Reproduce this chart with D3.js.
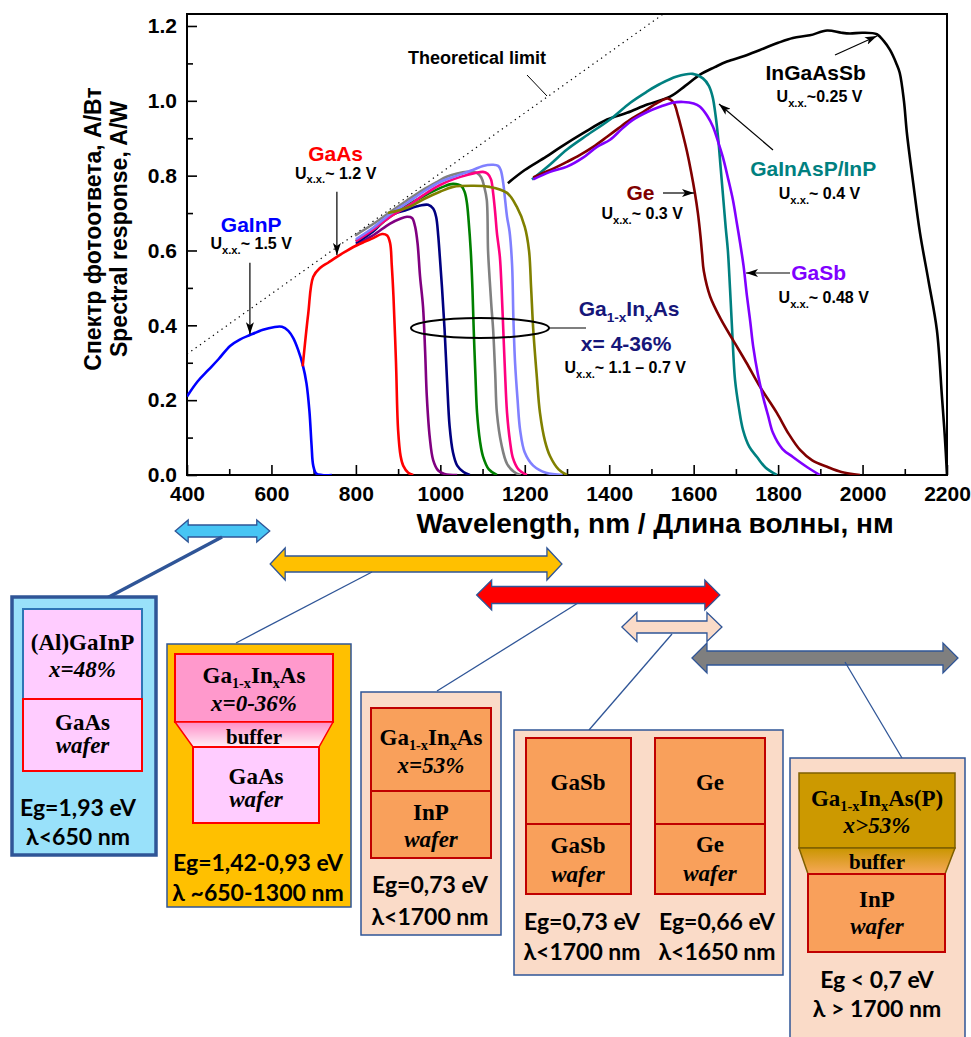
<!DOCTYPE html>
<html lang="en">
<head>
<meta charset="UTF-8">
<title>Spectral response of photodiodes</title>
<script src="https://d3js.org/d3.v7.min.js"></script>
<style>
  body { margin: 0; background: #fff; }
  svg { display: block; }
</style>
</head>
<body>
<script>
// ---------- data (wavelength nm, response A/W) ----------
const xTicks = [400, 600, 800, 1000, 1200, 1400, 1600, 1800, 2000, 2200];
const xMinor = [500, 700, 900, 1100, 1300, 1500, 1700, 1900, 2100];
const yTicks = [0, 0.2, 0.4, 0.6, 0.8, 1.0, 1.2];
const yMinor = [0.1, 0.3, 0.5, 0.7, 0.9, 1.1];

const theoryLimit = [[400, 0.323], [1528, 1.232]];

const gainp = [[400,0.21],[425,0.25],[450,0.28],[475,0.31],[502,0.345],[525,0.362],[549,0.374],[580,0.388],[605,0.395],[625,0.396],[640,0.385],[652,0.365],[663,0.335],[674,0.295],[683,0.245],[690,0.17],[695,0.08],[699,0.025],[706,0.004],[720,0],[743,0]];
const gaas = [[674,0.29],[687,0.43],[699,0.53],[715,0.553],[735,0.568],[755,0.583],[775,0.597],[795,0.61],[820,0.623],[841,0.633],[862,0.644],[874,0.64],[881,0.62],[885,0.56],[889,0.477],[895,0.3],[900,0.12],[906,0.05],[912,0.025],[924,0.006],[936,0]];

const gainas04 = [[800,0.615],[840,0.64],[881,0.672],[905,0.685],[921,0.69],[933,0.687],[940,0.665],[946,0.62],[952,0.53],[959,0.45],[964,0.33],[968,0.21],[975,0.1],[983,0.04],[995,0.012],[1010,0.003],[1040,0]];
const gainas10 = [[800,0.62],[840,0.65],[881,0.693],[921,0.709],[952,0.72],[971,0.722],[983,0.712],[990,0.69],[995,0.64],[999,0.58],[1004,0.5],[1010,0.39],[1016,0.25],[1022,0.13],[1030,0.06],[1040,0.025],[1055,0.008],[1070,0]];
const gainas18 = [[800,0.625],[840,0.655],[881,0.69],[921,0.72],[960,0.745],[1006,0.77],[1030,0.778],[1050,0.772],[1058,0.755],[1063,0.727],[1067,0.68],[1072,0.6],[1076,0.5],[1079,0.39],[1083,0.27],[1087,0.166],[1094,0.09],[1101,0.05],[1115,0.015],[1134,0]];
const gainas22 = [[798,0.64],[840,0.67],[881,0.703],[920,0.733],[959,0.762],[990,0.782],[1015,0.797],[1040,0.806],[1063,0.81],[1087,0.807],[1097,0.795],[1104,0.77],[1110,0.735],[1113,0.6],[1117,0.52],[1121,0.45],[1125,0.39],[1130,0.27],[1134,0.166],[1145,0.08],[1158,0.03],[1175,0.008],[1190,0]];
const gainas26 = [[800,0.625],[840,0.655],[881,0.69],[921,0.717],[960,0.748],[999,0.775],[1030,0.79],[1063,0.802],[1101,0.81],[1112,0.805],[1120,0.79],[1125,0.754],[1130,0.7],[1134,0.647],[1141,0.583],[1145,0.5],[1149,0.39],[1153,0.28],[1158,0.166],[1165,0.09],[1172,0.045],[1185,0.015],[1205,0]];
const gainas30 = [[800,0.63],[840,0.66],[881,0.697],[921,0.727],[960,0.757],[999,0.783],[1040,0.8],[1077,0.815],[1101,0.826],[1125,0.829],[1137,0.826],[1143,0.815],[1149,0.78],[1153,0.74],[1158,0.69],[1164,0.65],[1170,0.56],[1173,0.42],[1177,0.3],[1183,0.2],[1189,0.12],[1200,0.06],[1220,0.025],[1250,0.006],[1290,0]];
const gainas36 = [[876,0.7],[921,0.714],[960,0.737],[999,0.757],[1030,0.77],[1077,0.773],[1117,0.77],[1158,0.754],[1181,0.717],[1200,0.663],[1210,0.6],[1215,0.5],[1220,0.39],[1228,0.27],[1236,0.166],[1248,0.09],[1260,0.05],[1280,0.015],[1300,0]];

const ingaassb = [[1160,0.78],[1200,0.815],[1250,0.85],[1283,0.875],[1340,0.915],[1395,0.95],[1442,0.968],[1490,0.99],[1544,1.011],[1580,1.04],[1615,1.07],[1650,1.09],[1679,1.105],[1720,1.12],[1757,1.136],[1800,1.155],[1835,1.168],[1875,1.175],[1916,1.188],[1950,1.182],[1970,1.18],[2000,1.182],[2034,1.178],[2050,1.16],[2065,1.136],[2080,1.1],[2088,1.075],[2098,1.0],[2105,0.914],[2120,0.78],[2136,0.647],[2156,0.52],[2176,0.388],[2188,0.21],[2195,0.1],[2200,0]];
const gainasp = [[1217,0.79],[1260,0.83],[1300,0.87],[1350,0.91],[1402,0.95],[1450,0.995],[1490,1.025],[1520,1.045],[1560,1.065],[1598,1.072],[1622,1.06],[1636,1.04],[1645,1.01],[1652,0.96],[1658,0.9],[1664,0.82],[1670,0.74],[1676,0.66],[1681,0.6],[1686,0.5],[1691,0.39],[1698,0.254],[1707,0.18],[1717,0.12],[1732,0.075],[1750,0.048],[1770,0.02],[1797,0]];
const ge = [[1220,0.795],[1243,0.807],[1270,0.82],[1300,0.837],[1330,0.855],[1362,0.877],[1395,0.904],[1420,0.925],[1449,0.949],[1480,0.97],[1515,0.995],[1538,1.006],[1552,0.996],[1563,0.96],[1574,0.912],[1584,0.865],[1594,0.81],[1603,0.753],[1610,0.7],[1616,0.64],[1620,0.59],[1624,0.545],[1639,0.477],[1665,0.415],[1693,0.361],[1725,0.3],[1757,0.236],[1797,0.166],[1825,0.11],[1852,0.067],[1880,0.04],[1916,0.022],[1950,0.008],[1994,0]];
const gasb = [[1220,0.79],[1260,0.81],[1300,0.824],[1338,0.848],[1371,0.877],[1402,0.896],[1430,0.925],[1456,0.949],[1490,0.97],[1520,0.984],[1550,0.995],[1575,0.997],[1600,0.993],[1615,0.984],[1632,0.96],[1646,0.93],[1658,0.89],[1669,0.85],[1682,0.79],[1693,0.735],[1702,0.675],[1710,0.62],[1718,0.56],[1726,0.48],[1734,0.41],[1741,0.343],[1752,0.27],[1764,0.21],[1776,0.16],[1788,0.112],[1810,0.07],[1835,0.048],[1870,0.02],[1899,0]];

// wavelength ranges of the detector families (arrows under the axis)
const bandRanges = [[372, 596], [597, 1288], [1086, 1662], [1430, 1667], [1596, 2226]];

// ---------- setup ----------
const W = 971, H = 1037;
const svg = d3.select("body").append("svg").attr("width", W).attr("height", H);
const defs = svg.append("defs");

const x = d3.scaleLinear().domain([400, 2200]).range([187, 947]);
const y = d3.scaleLinear().domain([0, 1.232]).range([475, 14]);

const SANS = "'Liberation Sans', Arial, sans-serif";
const SERIF = "'Liberation Serif', 'Times New Roman', serif";
const CAL = "Lato, 'Open Sans', sans-serif";

defs.append("clipPath").attr("id", "plot")
  .append("rect").attr("x", 187).attr("y", 14).attr("width", 760).attr("height", 461);

defs.append("marker").attr("id", "ah")
  .attr("viewBox", "0 0 12 8").attr("refX", 12).attr("refY", 4)
  .attr("markerWidth", 12).attr("markerHeight", 8)
  .attr("markerUnits", "userSpaceOnUse").attr("orient", "auto")
  .append("path").attr("d", "M0,0 L12,4 L0,8 L3,4 Z").attr("fill", "#000");

// ---------- axes ----------
svg.append("g").attr("transform", "translate(0,475)")
  .call(d3.axisBottom(x).tickValues(xTicks).tickSizeInner(-10).tickSizeOuter(0).tickPadding(11).tickFormat(d3.format("d")));
svg.append("g").attr("transform", "translate(0,475)")
  .call(d3.axisBottom(x).tickValues(xMinor).tickSizeInner(-6).tickSizeOuter(0).tickFormat(""));
svg.append("g").attr("transform", "translate(187,0)")
  .call(d3.axisLeft(y).tickValues(yTicks).tickSizeInner(-10).tickSizeOuter(0).tickPadding(10).tickFormat(d3.format(".1f")));
svg.append("g").attr("transform", "translate(187,0)")
  .call(d3.axisLeft(y).tickValues(yMinor).tickSizeInner(-6).tickSizeOuter(0).tickFormat(""));

svg.selectAll(".domain").remove();
svg.selectAll(".tick line").attr("stroke", "#000").attr("stroke-width", 1.6);
svg.selectAll(".tick text").attr("font-family", SANS).attr("font-size", 21)
  .attr("font-weight", "bold").attr("fill", "#000");

svg.append("rect").attr("x", 187).attr("y", 14).attr("width", 760).attr("height", 461)
  .attr("fill", "none").attr("stroke", "#000").attr("stroke-width", 2);

svg.append("text").attr("x", 655).attr("y", 533).attr("text-anchor", "middle")
  .attr("font-family", SANS).attr("font-size", 28).attr("font-weight", "bold")
  .text("Wavelength, nm / Длина волны, нм");

[["Спектр фотоответа, А/Вт", 101], ["Spectral response, A/W", 127]].forEach(([t, bx]) => {
  svg.append("text").attr("transform", `translate(${bx},229) rotate(-90)`)
    .attr("text-anchor", "middle").attr("font-family", SANS).attr("font-size", 23)
    .attr("font-weight", "bold").text(t);
});

// ---------- curves ----------
const line = d3.line().x(d => x(d[0])).y(d => y(d[1])).curve(d3.curveCatmullRom.alpha(0.5));
const plot = svg.append("g").attr("clip-path", "url(#plot)");

plot.append("path").datum(theoryLimit)
  .attr("d", d3.line().x(d => x(d[0])).y(d => y(d[1])))
  .attr("fill", "none").attr("stroke", "#000").attr("stroke-width", 1.2)
  .attr("stroke-dasharray", "1.3,4");

const series = [
  { data: gainas04, color: "#800080" },
  { data: gainas10, color: "#000080" },
  { data: gainas18, color: "#008000" },
  { data: gainas22, color: "#808080" },
  { data: gainas26, color: "#ff0080" },
  { data: gainas30, color: "#8080ff" },
  { data: gainas36, color: "#808000" },
  { data: ingaassb, color: "#000000" },
  { data: gainasp, color: "#008080" },
  { data: ge, color: "#800000" },
  { data: gasb, color: "#8000ff" },
  { data: gainp, color: "#0000ff" },
  { data: gaas, color: "#ff0000" }
];
plot.selectAll("path.curve").data(series).enter().append("path")
  .attr("class", "curve")
  .attr("d", d => line(d.data))
  .attr("fill", "none").attr("stroke", d => d.color).attr("stroke-width", 2.6)
  .attr("stroke-linejoin", "round");

// ---------- annotations ----------
function rich(sel, px, py, parts, o) {
  const t = sel.append("text").attr("x", px).attr("y", py)
    .attr("text-anchor", o.anchor || "middle").attr("font-family", o.font)
    .attr("font-size", o.size).attr("font-weight", "bold").attr("fill", o.color || "#000");
  if (o.italic) t.attr("font-style", "italic");
  let inSub = false;
  const sh = o.size * (o.subShift || 0.3), ss = o.size * (o.subScale || 0.65);
  parts.forEach(p => {
    const isSub = p.startsWith("_");
    const ts = t.append("tspan").text(isSub ? p.slice(1) : p);
    if (isSub) ts.attr("font-size", ss);
    if (isSub && !inSub) ts.attr("dy", sh);
    if (!isSub && inSub) ts.attr("dy", -sh);
    inSub = isSub;
  });
  return t;
}
function arrow(x1, y1, x2, y2) {
  svg.append("line").attr("x1", x1).attr("y1", y1).attr("x2", x2).attr("y2", y2)
    .attr("stroke", "#000").attr("stroke-width", 1.2).attr("marker-end", "url(#ah)");
}
const lab = (px, py, t, c) => rich(svg, px, py, [t], { font: SANS, size: 21, color: c });
const uLab = (px, py, rest) => rich(svg, px, py, ["U", "_x.x.", rest], { font: SANS, size: 16, subScale: 0.7 });

lab(x(552), y(0.65), "GaInP", "#0000ff");
uLab(x(552), y(0.603), "~ 1.5 V");
arrow(x(549), y(0.567), x(549), y(0.376));

lab(x(752), y(0.84), "GaAs", "#ff0000");
uLab(x(752), y(0.792), "~ 1.2 V");
arrow(x(755), y(0.757), x(755), y(0.588));

svg.append("text").attr("x", x(1087)).attr("y", y(1.099)).attr("text-anchor", "middle")
  .attr("font-family", SANS).attr("font-size", 18).attr("font-weight", "bold").text("Theoretical limit");
svg.append("line").attr("x1", 527).attr("y1", 75).attr("x2", 547).attr("y2", 96)
  .attr("stroke", "#000").attr("stroke-width", 1);

lab(x(1889), y(1.056), "InGaAsSb", "#000");
uLab(x(1898), y(0.997), "~0.25 V");
arrow(835, 55, 877, 36);

lab(x(1883), y(0.799), "GaInAsP/InP", "#008080");
uLab(x(1898), y(0.738), "~ 0.4 V");
arrow(773, 150, 719, 104);

lab(x(1474), y(0.735), "Ge", "#800000");
uLab(x(1478), y(0.684), "~ 0.3 V");
arrow(663, 193, 694, 193);

lab(x(1896), y(0.522), "GaSb", "#8000ff");
uLab(x(1908), y(0.46), "~ 0.48 V");
arrow(790, 273, 746, 273);

rich(svg, x(1447), y(0.425), ["Ga", "_1-x", "In", "_x", "As"], { font: SANS, size: 21, color: "#161679" });
rich(svg, x(1440), y(0.332), ["x= 4-36%"], { font: SANS, size: 21, color: "#161679" });
uLab(x(1438), y(0.273), "~ 1.1 – 0.7 V");
svg.append("ellipse").attr("cx", 480).attr("cy", 328).attr("rx", 69).attr("ry", 10)
  .attr("fill", "none").attr("stroke", "#000").attr("stroke-width", 2);
svg.append("line").attr("x1", 549).attr("y1", 328).attr("x2", 586).attr("y2", 328)
  .attr("stroke", "#000").attr("stroke-width", 1.2);

// ---------- band arrows ----------
const arrowStyle = [
  { cy: 531, hh: 11, bh: 6, hl: 13, fill: "#47c5f4" },
  { cy: 564, hh: 16, bh: 8, hl: 15, fill: "#ffc000" },
  { cy: 595, hh: 15, bh: 8.5, hl: 15, fill: "#ff0000" },
  { cy: 627, hh: 14.5, bh: 6, hl: 15, fill: "#fadbc8" },
  { cy: 658, hh: 15, bh: 7, hl: 15, fill: "#7f7f7f" }
];
function blockArrow(x0, x1, cy, hh, bh, hl) {
  return `M${x0},${cy} L${x0 + hl},${cy - hh} L${x0 + hl},${cy - bh} L${x1 - hl},${cy - bh} L${x1 - hl},${cy - hh} L${x1},${cy} ` +
         `L${x1 - hl},${cy + hh} L${x1 - hl},${cy + bh} L${x0 + hl},${cy + bh} L${x0 + hl},${cy + hh} Z`;
}
bandRanges.forEach((r, i) => {
  const s = arrowStyle[i];
  svg.append("path").attr("d", blockArrow(x(r[0]), x(r[1]), s.cy, s.hh, s.bh, s.hl))
    .attr("fill", s.fill).attr("stroke", "#2f5597").attr("stroke-width", 1.3);
});

// connectors
[[222, 537, 107, 598, 3.5], [372, 572, 236, 643, 1.3], [578, 603, 437, 691, 1.3],
 [672, 634, 589, 730, 1.3], [845, 662, 902, 758, 1.3]].forEach(c => {
  svg.append("line").attr("x1", c[0]).attr("y1", c[1]).attr("x2", c[2]).attr("y2", c[3])
    .attr("stroke", "#2f5597").attr("stroke-width", c[4]);
});

// ---------- structure boxes ----------
const g2 = defs.append("linearGradient").attr("id", "buf2").attr("x1", 0).attr("y1", 0).attr("x2", 0).attr("y2", 1);
g2.append("stop").attr("offset", "0%").attr("stop-color", "#ff8cc6");
g2.append("stop").attr("offset", "100%").attr("stop-color", "#fff0f8");
const g5 = defs.append("linearGradient").attr("id", "buf5").attr("x1", 0).attr("y1", 0).attr("x2", 0).attr("y2", 1);
g5.append("stop").attr("offset", "0%").attr("stop-color", "#c99600");
g5.append("stop").attr("offset", "100%").attr("stop-color", "#f8a85a");

function rect(px, py, w, h, fill, stroke, sw) {
  svg.append("rect").attr("x", px).attr("y", py).attr("width", w).attr("height", h)
    .attr("fill", fill).attr("stroke", stroke).attr("stroke-width", sw);
}
const ser = (px, py, parts, it) => rich(svg, px, py, parts, { font: SERIF, size: 23, italic: it, subScale: 0.62, subShift: 0.22 });
const cal = (px, py, t) => svg.append("text").attr("x", px).attr("y", py).attr("text-anchor", "middle")
  .attr("font-family", CAL).attr("font-size", 23).attr("font-weight", "bold").text(t);

// box 1
rect(12, 597, 144, 258, "#99e1fa", "#2f5597", 3.5);
rect(23, 609, 119, 90, "#ffccff", "#2e75b6", 2);
rect(23, 699, 119, 72, "#ffccff", "#ff0000", 2);
ser(82.5, 650, ["(Al)GaInP"]);
ser(82.5, 677, ["x=48%"], true);
ser(82.5, 730, ["GaAs"]);
ser(82.5, 753, ["wafer"], true);
cal(78, 816, "Eg=1,93 eV");
cal(78, 845, "λ<650 nm");

// box 2
rect(167, 644, 184, 263, "#ffc000", "#2f5597", 1.5);
rect(175, 654, 158, 68, "#ff99cc", "#ff0000", 2);
svg.append("path").attr("d", "M175,722 L333,722 L319,747 L193,747 Z")
  .attr("fill", "url(#buf2)").attr("stroke", "#ff0000").attr("stroke-width", 1.5);
rect(193, 747, 126, 76, "#ffccff", "#ff0000", 2);
ser(254, 683, ["Ga", "_1-x", "In", "_x", "As"]);
ser(254, 711, ["x=0-36%"], true);
rich(svg, 254, 744, ["buffer"], { font: SERIF, size: 21 });
ser(256, 784, ["GaAs"]);
ser(256, 807, ["wafer"], true);
cal(258, 871, "Eg=1,42-0,93 eV");
cal(258, 901, "λ ~650-1300 nm");

// box 3
rect(361, 692, 140, 243, "#fadbc8", "#2f5597", 1.5);
rect(371, 708, 120, 83, "#f9a05b", "#c00000", 2);
rect(371, 791, 120, 67, "#f9a05b", "#c00000", 2);
ser(431, 745, ["Ga", "_1-x", "In", "_x", "As"]);
ser(431, 773, ["x=53%"], true);
ser(431, 820, ["InP"]);
ser(431, 847, ["wafer"], true);
cal(430, 893, "Eg=0,73 eV");
cal(430, 925, "λ<1700 nm");

// box 4
rect(514, 730, 269, 245, "#fadbc8", "#2f5597", 1.5);
rect(526, 738, 105, 86, "#f9a05b", "#c00000", 2);
rect(526, 824, 105, 70, "#f9a05b", "#c00000", 2);
rect(655, 738, 110, 86, "#f9a05b", "#c00000", 2);
rect(655, 824, 110, 70, "#f9a05b", "#c00000", 2);
ser(578, 790, ["GaSb"]);
ser(578, 853, ["GaSb"]);
ser(578, 882, ["wafer"], true);
ser(710, 790, ["Ge"]);
ser(710, 852, ["Ge"]);
ser(710, 881, ["wafer"], true);
cal(582, 930, "Eg=0,73 eV");
cal(582, 960, "λ<1700 nm");
cal(717, 930, "Eg=0,66 eV");
cal(717, 960, "λ<1650 nm");

// box 5
rect(790, 758, 175, 290, "#fadbc8", "#2f5597", 1.5);
rect(799, 773, 156, 75, "#cc9900", "#7f6000", 1.5);
svg.append("path").attr("d", "M799,848 L955,848 L945,874 L808,874 Z")
  .attr("fill", "url(#buf5)").attr("stroke", "#7f6000").attr("stroke-width", 1.5);
rect(808, 874, 137, 78, "#f9a05b", "#c00000", 2);
ser(877, 806, ["Ga", "_1-x", "In", "_x", "As(P)"]);
ser(877, 833, ["x>53%"], true);
rich(svg, 877, 869, ["buffer"], { font: SERIF, size: 21 });
ser(877, 907, ["InP"]);
ser(877, 934, ["wafer"], true);
cal(877, 988, "Eg < 0,7 eV");
cal(877, 1017, "λ > 1700 nm");
</script>
</body>
</html>
